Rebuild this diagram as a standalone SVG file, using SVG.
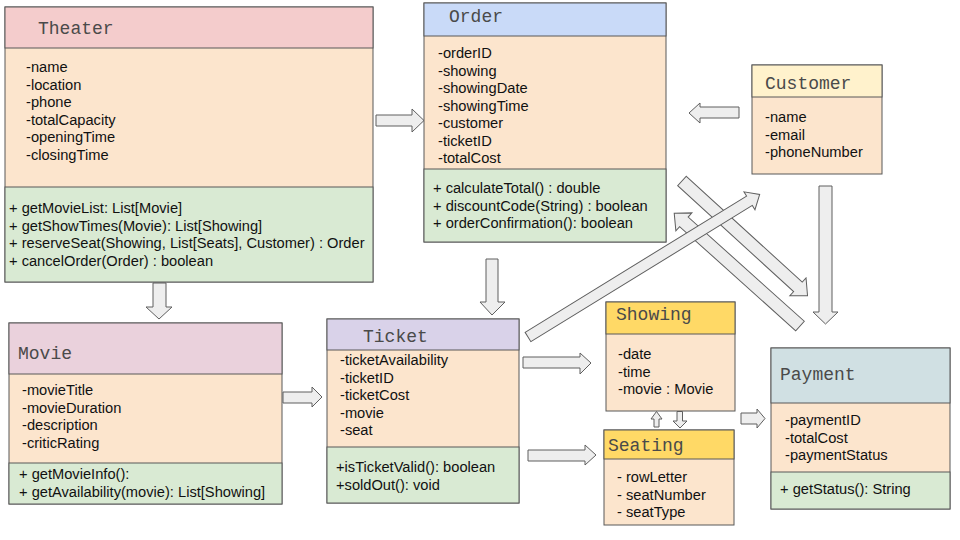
<svg xmlns="http://www.w3.org/2000/svg" width="960" height="540" viewBox="0 0 960 540">
<style>
.box{stroke:#595959;stroke-width:1}
.t{font-family:"Liberation Mono","Courier New",monospace;font-size:18px;fill:#4a4a4a}
.a{font-family:"Liberation Sans",Arial,sans-serif;font-size:14.67px;fill:#111}
.attr{fill:#fce5cd}
.meth{fill:#d9ead3}
.arr{fill:#eeeeee;stroke:#5f5f5f;stroke-width:1;stroke-linejoin:miter}
</style>
<rect width="960" height="540" fill="#ffffff"/>

<g id="connectors">
<path class="arr" d="M376,115 L412,115 L412,109 L424,120.5 L412,132 L412,126 L376,126 Z"/>
<path class="arr" d="M739,107 L700,107 L700,103 L689,113 L700,123 L700,118 L739,118 Z"/>
<path class="arr" d="M153,283 L153,307 L146,307 L159,319 L172,307 L166,307 L166,283 Z"/>
<path class="arr" d="M486,259 L486,302 L480,302 L492,315 L505,302 L498,302 L498,259 Z"/>
<path class="arr" d="M283,392 L312,392 L312,387 L322,397 L312,407 L312,403 L283,403 Z"/>
<path class="arr" d="M523,357 L580,357 L580,353 L591,363 L580,374 L580,368 L523,368 Z"/>
<path class="arr" d="M528,450 L585,450 L585,445 L596,455 L585,465 L585,461 L528,461 Z"/>
<path class="arr" d="M654,427 L654,419 L651,419 L656.5,411.5 L662,419 L659,419 L659,427 Z"/>
<path class="arr" d="M677,411.5 L677,421 L673,421 L680,428 L687,421 L682.5,421 L682.5,411.5 Z"/>
<path class="arr" d="M741,413 L757,413 L757,409 L765,418.5 L757,428 L757,424 L741,424 Z"/>
<path class="arr" d="M819,186 L819,312 L813,312 L825.5,324 L838,312 L832,312 L832,186 Z"/>
<path class="arr" transform="translate(682,181) rotate(42.4)" d="M0,-6.4 L157,-6.4 L157,-12 L170,0 L157,12 L157,6.4 L0,6.4 Z"/>
<path class="arr" transform="translate(800,326) rotate(221.9)" d="M0,-6.4 L156,-6.4 L156,-12 L169,0 L156,12 L156,6.4 L0,6.4 Z"/>
<path class="arr" transform="translate(528,337) rotate(-31.6)" d="M0,-5.5 L260,-5.5 L260,-10.5 L272,0 L260,10.5 L260,5.5 L0,5.5 Z"/>
</g>

<g id="theater">
<rect class="box attr" x="5" y="7" width="368" height="275"/>
<rect class="box" x="5" y="7" width="368" height="41" fill="#f4cccc"/>
<rect class="box meth" x="5" y="187" width="368" height="95"/>
<text class="t" x="38" y="34">Theater</text>
<text class="a" x="26" y="72">-name</text>
<text class="a" x="26" y="89.5">-location</text>
<text class="a" x="26" y="107">-phone</text>
<text class="a" x="26" y="124.5">-totalCapacity</text>
<text class="a" x="26" y="142">-openingTime</text>
<text class="a" x="26" y="159.5">-closingTime</text>
<text class="a" x="9" y="213">+ getMovieList: List[Movie]</text>
<text class="a" x="9" y="230.5">+ getShowTimes(Movie): List[Showing]</text>
<text class="a" x="9" y="248">+ reserveSeat(Showing, List[Seats], Customer) : Order</text>
<text class="a" x="9" y="265.5">+ cancelOrder(Order) : boolean</text>
</g>

<g id="order">
<rect class="box attr" x="424" y="3" width="242" height="239"/>
<rect class="box" x="424" y="3" width="242" height="33" fill="#c9daf8"/>
<rect class="box meth" x="424" y="169" width="242" height="73"/>
<text class="t" x="449" y="22">Order</text>
<text class="a" x="438" y="58">-orderID</text>
<text class="a" x="438" y="75.5">-showing</text>
<text class="a" x="438" y="93">-showingDate</text>
<text class="a" x="438" y="110.5">-showingTime</text>
<text class="a" x="438" y="128">-customer</text>
<text class="a" x="438" y="145.5">-ticketID</text>
<text class="a" x="438" y="163">-totalCost</text>
<text class="a" x="433" y="193">+ calculateTotal() : double</text>
<text class="a" x="433" y="210.5">+ discountCode(String) : boolean</text>
<text class="a" x="433" y="228">+ orderConfirmation(): boolean</text>
</g>

<g id="customer">
<rect class="box attr" x="752" y="65" width="130" height="109"/>
<rect class="box" x="752" y="65" width="130" height="32" fill="#fff2cc"/>
<text class="t" x="765" y="89">Customer</text>
<text class="a" x="765" y="122">-name</text>
<text class="a" x="765" y="139.5">-email</text>
<text class="a" x="765" y="157">-phoneNumber</text>
</g>

<g id="movie">
<rect class="box attr" x="9" y="323" width="273" height="181"/>
<rect class="box" x="9" y="323" width="273" height="51" fill="#ead1dc"/>
<rect class="box meth" x="9" y="463" width="273" height="41"/>
<text class="t" x="18" y="359">Movie</text>
<text class="a" x="22" y="395">-movieTitle</text>
<text class="a" x="22" y="412.5">-movieDuration</text>
<text class="a" x="22" y="430">-description</text>
<text class="a" x="22" y="447.5">-criticRating</text>
<text class="a" x="19" y="479">+ getMovieInfo():</text>
<text class="a" x="19" y="496.5">+ getAvailability(movie): List[Showing]</text>
</g>

<g id="ticket">
<rect class="box attr" x="327" y="319" width="192" height="184"/>
<rect class="box" x="327" y="319" width="192" height="31" fill="#d9d2e9"/>
<rect class="box meth" x="327" y="447" width="192" height="56"/>
<text class="t" x="363" y="342">Ticket</text>
<text class="a" x="340" y="365">-ticketAvailability</text>
<text class="a" x="340" y="382.5">-ticketID</text>
<text class="a" x="340" y="400">-ticketCost</text>
<text class="a" x="340" y="417.5">-movie</text>
<text class="a" x="340" y="435">-seat</text>
<text class="a" x="336" y="472">+isTicketValid(): boolean</text>
<text class="a" x="336" y="489.5">+soldOut(): void</text>
</g>

<g id="showing">
<rect class="box attr" x="606" y="302" width="129" height="109"/>
<rect class="box" x="606" y="302" width="129" height="32" fill="#ffd966"/>
<text class="t" x="616" y="320">Showing</text>
<text class="a" x="618" y="359">-date</text>
<text class="a" x="618" y="376.5">-time</text>
<text class="a" x="618" y="394">-movie : Movie</text>
</g>

<g id="seating">
<rect class="box attr" x="604" y="430" width="130" height="95"/>
<rect class="box" x="604" y="430" width="130" height="29" fill="#ffd966"/>
<text class="t" x="608" y="451">Seating</text>
<text class="a" x="617" y="482">- rowLetter</text>
<text class="a" x="617" y="499.5">- seatNumber</text>
<text class="a" x="617" y="517">- seatType</text>
</g>

<g id="payment">
<rect class="box attr" x="771" y="348" width="179" height="161"/>
<rect class="box" x="771" y="348" width="179" height="55" fill="#d0e0e3"/>
<rect class="box meth" x="771" y="472" width="179" height="37"/>
<text class="t" x="780" y="380">Payment</text>
<text class="a" x="785" y="425">-paymentID</text>
<text class="a" x="785" y="442.5">-totalCost</text>
<text class="a" x="785" y="460">-paymentStatus</text>
<text class="a" x="780" y="494">+ getStatus(): String</text>
</g>
</svg>
